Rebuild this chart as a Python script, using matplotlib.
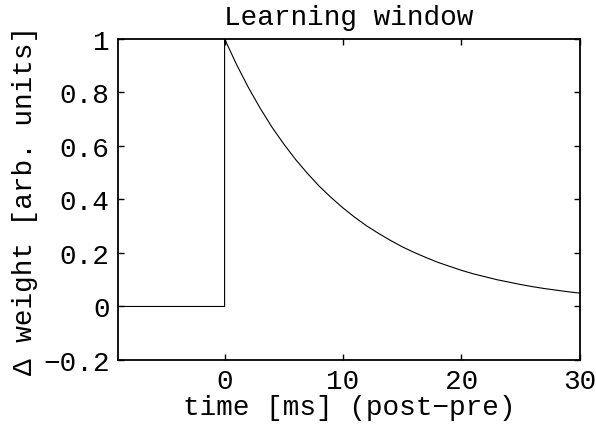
import matplotlib
matplotlib.use("Agg")
import matplotlib.pyplot as plt
from matplotlib.ticker import FuncFormatter

plt.rcParams['font.family'] = ['Liberation Mono', 'DejaVu Sans Mono']

# learning window: weight change vs. spike timing (post - pre), in ms
times = [-9, 0, 0, 1, 2, 3, 4, 5, 6, 7, 8, 9, 10, 11, 12, 13, 14, 15,
         16, 17, 18, 19, 20, 21, 22, 23, 24, 25, 26, 27, 28, 29, 30]
weights = [0, 0, 1.000, 0.905, 0.819, 0.741, 0.670, 0.607, 0.549, 0.497,
           0.449, 0.407, 0.368, 0.333, 0.301, 0.273, 0.247, 0.223, 0.202,
           0.183, 0.165, 0.150, 0.135, 0.122, 0.111, 0.100, 0.091, 0.082,
           0.074, 0.067, 0.061, 0.055, 0.050]
xticks = [0, 10, 20, 30]
yticks = [-0.2, 0, 0.2, 0.4, 0.6, 0.8, 1]

fs = 20

fig = plt.figure(figsize=(5.96, 4.27), dpi=100)
ax = fig.add_axes([0.198, 0.1546, 0.775, 0.752])
ax.plot(times, weights, color='black', linewidth=0.8)

ax.set_xlim(-9, 30)
ax.set_ylim(-0.2, 1)
ax.set_xticks(xticks)
ax.set_yticks(yticks)
ax.yaxis.set_major_formatter(FuncFormatter(lambda v, p: ('%g' % v).replace('-', '\u2212')))
ax.tick_params(direction='in', length=4, width=1, top=True, right=True,
               labelsize=fs, pad=6)
for s in ax.spines.values():
    s.set_linewidth(1.3)

ax.set_title('Learning window', fontsize=fs, pad=11)
ax.set_xlabel('time [ms] (post\u2212pre)', fontsize=fs, labelpad=0)
ax.set_ylabel('\u0394 weight [arb. units]', fontsize=fs, labelpad=4)

fig.savefig('out.png', dpi=100)
